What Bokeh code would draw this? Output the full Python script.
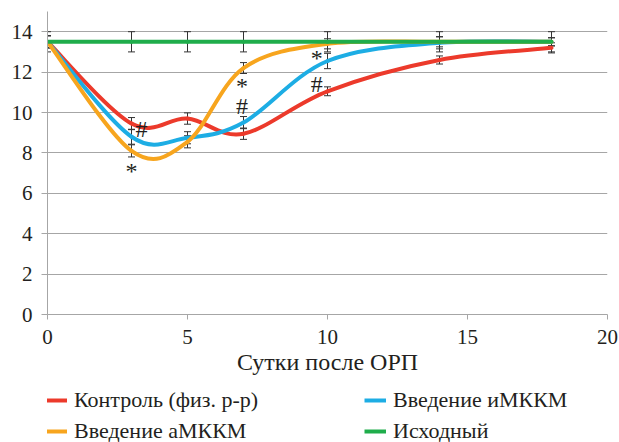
import numpy as np
from bokeh.plotting import figure
from bokeh.layouts import column
from bokeh.models import (Range1d, Legend, LegendItem, ColumnDataSource, Whisker,
                          TeeHead, FixedTicker)
from bokeh.core.properties import value
from bokeh.embed import file_html
from bokeh.resources import INLINE

# ---------------- data ----------------
days = [0, 3, 5, 7, 10, 14, 18]
control = [13.5, 9.45, 9.7, 8.95, 11.05, 12.6, 13.2]
imkkm = [13.5, 8.8, 8.75, 9.5, 12.55, 13.45, 13.5]
amkkm = [13.5, 8.1, 8.55, 12.2, 13.4, 13.5, 13.5]
initial = [13.5, 13.5, 13.5, 13.5, 13.5, 13.5, 13.5]

control_err = [0.3, 0.3, 0.28, 0.28, 0.22, 0.2, 0.25]
imkkm_err = [0.3, 0.37, 0.3, 0.3, 0.38, 0.3, 0.2]
amkkm_err = [0.3, 0.3, 0.3, 0.27, 0.25, 0.25, 0.2]
initial_err = [0.5, 0.5, 0.5, 0.5, 0.5, 0.5, 0.5]

names = ["Контроль (физ. р-р)", "Введение иМККМ", "Введение аМККМ", "Исходный"]
colors = ["#EC3A2B", "#1DADE4", "#F7A51E", "#1FAD4B"]

star_x = [3.0, 6.95, 9.62]
star_y = [7.1, 11.3, 12.72]
hash_x = [3.36, 6.95, 9.62]
hash_y = [9.2, 10.3, 11.4]

x_ticks = [0, 5, 10, 15, 20]
y_ticks = [0, 2, 4, 6, 8, 10, 12, 14]
x_title = "Сутки после ОРП"

FONT = "Liberation Serif"
TXT = "#231F20"
GRID = "#A6A6A6"

p = figure(width=619, height=383, output_backend="svg", toolbar_location=None,
           x_range=Range1d(0, 20), y_range=Range1d(0, 15),
           min_border_left=47, min_border_right=12, min_border_top=11,
           min_border_bottom=69)
p.outline_line_color = None
p.xgrid.visible = False
p.ygrid.grid_line_color = GRID
p.ygrid.grid_line_width = 1
p.ygrid.ticker = FixedTicker(ticks=y_ticks)

p.axis.axis_line_color = GRID
p.axis.major_tick_line_color = GRID
p.axis.minor_tick_line_color = None
p.axis.major_tick_in = 0
p.axis.major_label_text_font = FONT
p.axis.major_label_text_font_size = "21px"
p.axis.major_label_text_color = TXT
p.xaxis.ticker = FixedTicker(ticks=x_ticks)
p.yaxis.ticker = FixedTicker(ticks=y_ticks)
p.xaxis.major_tick_out = 5
p.yaxis.major_tick_out = 6
p.xaxis.major_label_standoff = 10
p.yaxis.major_label_standoff = 9
p.xaxis.axis_label = x_title
p.xaxis.axis_label_text_font = FONT
p.xaxis.axis_label_text_font_size = "24px"
p.xaxis.axis_label_text_font_style = "normal"
p.xaxis.axis_label_text_color = TXT
p.xaxis.axis_label_standoff = 2


def bezier_source(xs, ys, k=1.0 / 6.0):
    xs = np.asarray(xs, float)
    ys = np.asarray(ys, float)
    n = len(xs)
    x0, y0, x1, y1, cx0, cy0, cx1, cy1 = ([] for _ in range(8))
    for i in range(n - 1):
        pm = max(i - 1, 0)
        pp = min(i + 2, n - 1)
        x0.append(xs[i]); y0.append(ys[i])
        x1.append(xs[i + 1]); y1.append(ys[i + 1])
        cx0.append(xs[i] + (xs[i + 1] - xs[pm]) * k)
        cy0.append(ys[i] + (ys[i + 1] - ys[pm]) * k)
        cx1.append(xs[i + 1] - (xs[pp] - xs[i]) * k)
        cy1.append(ys[i + 1] - (ys[pp] - ys[i]) * k)
    return ColumnDataSource(dict(x0=x0, y0=y0, x1=x1, y1=y1,
                                 cx0=cx0, cy0=cy0, cx1=cx1, cy1=cy1))


series = [control, imkkm, amkkm, initial]
errs = [control_err, imkkm_err, amkkm_err, initial_err]
for i in range(4):
    src = bezier_source(days, series[i])
    p.bezier(x0="x0", y0="y0", x1="x1", y1="y1", cx0="cx0", cy0="cy0",
             cx1="cx1", cy1="cy1", source=src, line_color=colors[i],
             line_width=4, line_cap="round")

for i in range(4):
    up = [v + e for v, e in zip(series[i], errs[i])]
    lo = [v - e for v, e in zip(series[i], errs[i])]
    es = ColumnDataSource(dict(x=days, upper=up, lower=lo))
    w = Whisker(source=es, base="x", upper="upper", lower="lower",
                dimension="height", line_color="#333333", line_width=1,
                upper_head=TeeHead(size=7, line_color="#333333", line_width=1),
                lower_head=TeeHead(size=7, line_color="#333333", line_width=1))
    p.add_layout(w)

p.text(x=star_x, y=star_y, text=["*"] * len(star_x), text_font=value(FONT),
       text_font_size="24px", text_color=TXT, text_align="center",
       text_baseline="middle")
p.text(x=hash_x, y=hash_y, text=["#"] * len(hash_x), text_font=value(FONT),
       text_font_size="24px", text_color=TXT, text_align="center",
       text_baseline="middle")

# ---- legend strip below the chart (proxy lines lie outside its range) ----
lf = figure(width=619, height=59, output_backend="svg", toolbar_location=None,
            x_range=Range1d(100, 101), y_range=Range1d(100, 101),
            x_axis_location=None, y_axis_location=None, min_border=0)
lf.outline_line_color = None
lf.grid.visible = False
proxies = [lf.line(x=days, y=s, line_color=c, line_width=4)
           for s, c in zip(series, colors)]

legend = Legend(items=[LegendItem(label=names[j], renderers=[proxies[j]]) for j in range(4)],
                location=(-2, -2), orientation="horizontal", ncols=2,
                padding=0, margin=0, spacing=5, label_height=24, label_width=285,
                glyph_height=20, glyph_width=22, label_standoff=7,
                border_line_color=None, background_fill_alpha=0,
                label_text_font=FONT, label_text_font_size="22px",
                label_text_color=TXT)
lf.add_layout(legend, "center")

layout = column(p, lf, spacing=0)
open("out.html", "w").write(file_html(layout, INLINE))
